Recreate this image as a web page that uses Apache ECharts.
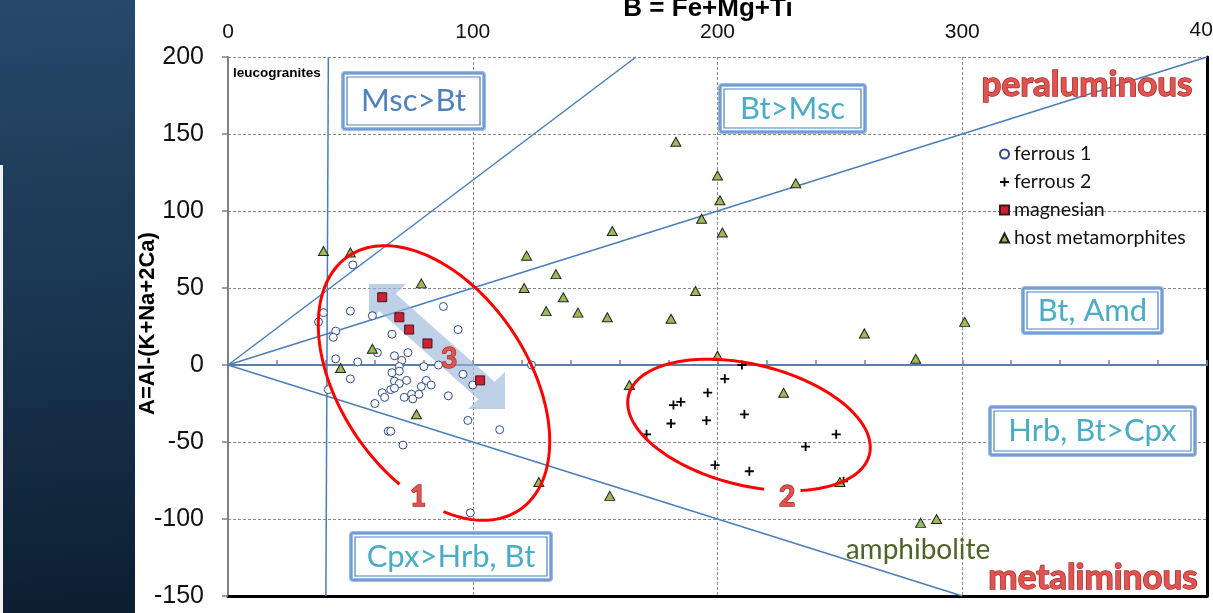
<!DOCTYPE html>
<html><head><meta charset="utf-8">
<script src="https://cdn.jsdelivr.net/npm/echarts@6/dist/echarts.min.js"></script>
<style>html,body{margin:0;padding:0;background:#fff;overflow:hidden}#c{width:1213px;height:613px}</style>
</head><body><div id="c"></div>
<script>
// ---- data (B = Fe+Mg+Ti, A = Al-(K+Na+2Ca)) ----
const xRange = [0, 400];
const yRange = [-150, 200];
const ferrous1 = [[51,65],[50,35],[59,32],[39,34],[37,28],[44,22],[43,18],[67,20],[88,38],[94,23],
  [44,4],[53,2],[61,8],[68,6],[71,3],[73.5,8],[70,-1],[80,-1],[86,0],[96,-6],[100,-13],[90,-20],
  [98,-36],[111,-42],[124,0],[50,-9],[67,-5],[70,-4],[68,-10.5],[70,-12],[73,-10],[63,-18],[64,-21],
  [66.5,-16],[68,-15],[72,-21],[75,-19],[75.5,-22],[78,-19],[79,-14],[81,-10],[83,-13],[60,-25],
  [65.5,-43],[66.5,-43],[71.5,-52],[99,-96],[41,-16]];
const ferrous2 = [[210,0],[203,-9],[196,-18],[182,-26],[185,-24],[211,-32],[181,-38],[195.5,-36],
  [171,-45],[248.5,-45],[236,-53],[199,-65],[213,-69],[251.5,-75.5]];
const magnesian = [[63,44],[70,31],[74,23],[81.5,14],[103,-10]];
const hostMeta = [[39,74],[50,73],[79,53],[59,10.5],[46,-2],[77,-32],[127,-76],[130,35],[122,71],
  [134,59],[121,50],[183,145],[200,123],[201,107],[232,118],[193.5,95],[202,86],[157,87],[137,44],
  [191,48],[143,34],[155,31],[181,30],[260,20.5],[200,6],[164,-13],[227,-18],[250,-76],[156,-85],
  [301,28],[281,4],[283,-102.5],[289.5,-100]];
// boundary lines of the diagram
const lineSteep = [[0,0],[166.7,200]];
const lineHalf = [[0,0],[400,200]];
const lineZero = [[0,0],[400,0]];
const lineNeg = [[0,0],[300,-150]];
const lineLeuco = [[41,200],[40,-150]];
const seriesNames = ['ferrous 1','ferrous 2','magnesian','host metamorphites'];
const xTitle = 'B = Fe+Mg+Ti';
const yTitle = 'A=Al-(K+Na+2Ca)';

const chart = echarts.init(document.getElementById('c'), null, {renderer:'canvas'});
const blue = '#4a7ebb';
const plusPath = 'path://M4,0H6V4H10V6H6V10H4V6H0V4H4Z';

function ellipsePts(cx, cy, a, b, thDeg, t0, t1) {
  const th = thDeg * Math.PI / 180, pts = [];
  const ux = Math.cos(th), uy = Math.sin(th), vx = -Math.sin(th), vy = Math.cos(th);
  for (let t = t0; t <= t1 + 0.01; t += 2) {
    const r = t * Math.PI / 180, ca = a * Math.cos(r), sb = b * Math.sin(r);
    pts.push([cx + ca * ux + sb * vx, cy + ca * uy + sb * vy]);
  }
  return pts;
}
function arrowPts(p1, p2, L, sw) {
  const dx = p2[0]-p1[0], dy = p2[1]-p1[1], len = Math.hypot(dx, dy);
  const nx = dy/len, ny = -dx/len;
  const h1 = [p1[0]+L/2, p1[1]+L/2], h2 = [p2[0]-L/2, p2[1]-L/2];
  return [p1, [p1[0]+L, p1[1]], [h1[0]+sw*nx, h1[1]+sw*ny], [h2[0]+sw*nx, h2[1]+sw*ny],
    [p2[0], p2[1]-L], p2, [p2[0]-L, p2[1]], [h2[0]-sw*nx, h2[1]-sw*ny], [h1[0]-sw*nx, h1[1]-sw*ny],
    [p1[0], p1[1]+L]];
}
function box(x, y, w, h, text, color) {
  return {type:'group', z:20, children:[
    {type:'rect', shape:{x:x, y:y, width:w, height:h, r:2}, style:{fill:'#fff', stroke:'#9dbbe2', lineWidth:4}},
    {type:'rect', shape:{x:x, y:y, width:w, height:h, r:2}, style:{fill:null, stroke:'#4f81bd', lineWidth:1}},
    {type:'rect', shape:{x:x+4, y:y+4, width:w-8, height:h-8}, style:{fill:null, stroke:'#4f81bd', lineWidth:1.2}},
    {type:'text', x:x+w/2, y:y+h/2, style:{text:text, fill:color, font:'31px Lato', align:'center', verticalAlign:'middle'}}
  ]};
}
function redText(x, y, text, size) {
  return {type:'text', z:25, x:x, y:y, style:{text:text, fill:'#df5450', stroke:'#a82a27', lineWidth:1.4,
    font:'bold ' + size + 'px Lato', align:'center', verticalAlign:'middle',
    shadowColor:'rgba(0,0,0,0.35)', shadowBlur:3, shadowOffsetX:1, shadowOffsetY:1}};
}
function lineSeries(d) {
  return {type:'line', data:d, symbol:'none', silent:true, z:1, lineStyle:{color:blue, width:1.5}, animation:false};
}
const gridLine = {show:true, lineStyle:{color:'#8a8a8a', type:[3,2], width:1}};
const labelFont = {color:'#111', fontSize:21, fontFamily:'Liberation Sans, Arial'};

chart.setOption({
  animation:false,
  backgroundColor:'#fff',
  grid:{left:228, top:57, width:979, height:539, containLabel:false},
  xAxis:[{type:'value', min:xRange[0], max:xRange[1], interval:100, position:'top',
    axisLine:{show:true, lineStyle:{color:'#808080', width:2}},
    axisTick:{show:true, inside:false, length:5, lineStyle:{color:'#808080', width:1.5}},
    minorTick:{show:true, splitNumber:5, length:5, lineStyle:{color:'#808080', width:1.5}},
    axisLabel:Object.assign({margin:14, showMaxLabel:false}, labelFont),
    splitLine:gridLine},
   {type:'value', min:xRange[0], max:xRange[1], position:'bottom', axisLine:{show:true, onZero:false, lineStyle:{color:'#000', width:3}},
    axisTick:{show:false}, axisLabel:{show:false}, splitLine:{show:false}}],
  yAxis:[{type:'value', min:yRange[0], max:yRange[1], interval:50,
    axisLine:{show:true, onZero:false, lineStyle:{color:'#808080', width:2}},
    axisTick:{show:true, inside:false, length:6, lineStyle:{color:'#808080', width:1.5}},
    axisLabel:{color:'#111', fontSize:25, fontFamily:'Liberation Sans, Arial', margin:24},
    splitLine:gridLine},
   {type:'value', min:yRange[0], max:yRange[1], position:'right', axisLine:{show:true, onZero:false, lineStyle:{color:'#000', width:3}},
    axisTick:{show:false}, axisLabel:{show:false}, splitLine:{show:false}}],
  legend:{data:seriesNames, orient:'vertical', left:994, top:139, itemWidth:9, itemHeight:9, itemGap:8,
    textStyle:{fontSize:19.5, fontFamily:'Lato', color:'#111'}},
  series:[
    lineSeries(lineSteep), lineSeries(lineHalf), lineSeries(lineZero), lineSeries(lineNeg), lineSeries(lineLeuco),
    {name:seriesNames[0], type:'scatter', data:ferrous1, symbol:'circle', symbolSize:8, z:5,
      itemStyle:{color:'#fff', borderColor:'#2f4a8a', borderWidth:1, opacity:1}},
    {name:seriesNames[1], type:'scatter', data:ferrous2, symbol:plusPath, symbolSize:9, z:5,
      itemStyle:{color:'#000', opacity:1}},
    {name:seriesNames[2], type:'scatter', data:magnesian, symbol:'rect', symbolSize:9, z:6,
      itemStyle:{color:'#cc2035', borderColor:'#4a1515', borderWidth:1, opacity:1}},
    {name:seriesNames[3], type:'scatter', data:hostMeta, symbol:'triangle', symbolSize:[10,9], z:5,
      itemStyle:{color:'#9bbb59', borderColor:'#222', borderWidth:1, opacity:1}}
  ]
});

// the last x tick label sits centred on the plot's right edge and is cut by the page edge
const maxPx = chart.convertToPixel({xAxisIndex:0}, xRange[1]);
const midY = chart.convertToPixel({yAxisIndex:0}, (yRange[0] + yRange[1]) / 2);

chart.setOption({
  graphic:[
    {type:'rect', z:-10, shape:{x:0, y:0, width:135, height:613},
      style:{fill:new echarts.graphic.LinearGradient(0,0,0.3,1,[{offset:0,color:'#27496a'},{offset:0.5,color:'#1a3652'},{offset:1,color:'#0d1f31'}])}},
    {type:'rect', z:-9, shape:{x:0, y:165, width:3, height:448}, style:{fill:'#f2f2f2'}},
    {type:'text', z:30, x:maxPx, y:30, style:{text:String(xRange[1]), font:'21px "Liberation Sans", Arial', fill:'#111', align:'center', verticalAlign:'middle'}},
    {type:'text', z:30, x:708, y:9, style:{text:xTitle, font:'bold 26px "Liberation Sans", Arial', fill:'#000', align:'center', verticalAlign:'middle'}},
    {type:'text', z:30, x:148, y:midY - 3, rotation:Math.PI/2, style:{text:yTitle, font:'bold 22px "Liberation Sans", Arial', fill:'#000', align:'center', verticalAlign:'middle'}},
    {type:'text', z:30, x:233, y:73, style:{text:'leucogranites', font:'bold 13.5px "Liberation Sans", Arial', fill:'#000', align:'left', verticalAlign:'middle'}},
    {type:'polygon', z:3, shape:{points:arrowPts([369,284],[505,409],37,12)}, style:{fill:'rgba(150,180,216,0.62)'}},
    {type:'polyline', z:15, shape:{points:ellipsePts(434,383,153,94,56,65,403)}, style:{stroke:'#ff0000', lineWidth:3, fill:null}},
    {type:'polyline', z:15, shape:{points:ellipsePts(749,425,124,60.5,13.8,76,418)}, style:{stroke:'#ff0000', lineWidth:3, fill:null}},
    box(343,73,141,56,'Msc>Bt','#4f81bd'),
    box(720,85,145,47,'Bt>Msc','#4bacc6'),
    box(1023,288,139,45,'Bt, Amd','#4bacc6'),
    box(990,407,205,48,'Hrb, Bt>Cpx','#4bacc6'),
    box(351,533,200,47,'Cpx>Hrb, Bt','#4bacc6'),
    redText(1087,85,'peraluminous',35),
    redText(1093,578,'metaliminous',35),
    redText(418,497,'1',28),
    redText(787,497,'2',28),
    redText(449,359,'3',28),
    {type:'text', z:30, x:918, y:550, style:{text:'amphibolite', font:'28px Lato', fill:'#4f6228', align:'center', verticalAlign:'middle'}}
  ]
});
</script></body></html>
